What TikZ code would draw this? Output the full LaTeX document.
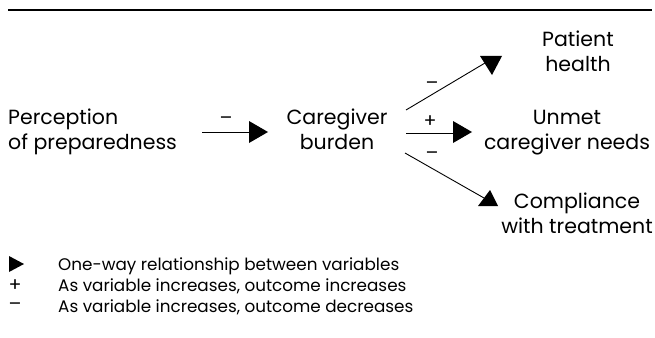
\documentclass[tikz,border=0pt]{standalone}
\usepackage{fontspec}
\setmainfont{Poppins}
\begin{document}
\begin{tikzpicture}[x=1pt,y=-1pt,
  lbl/.style={inner sep=0pt,align=center,font=\fontsize{20.5}{24.5}\selectfont},
  sgn/.style={inner sep=0pt,font=\fontsize{19}{22}\selectfont},
  leg/.style={inner sep=0pt,anchor=base west,font=\fontsize{16.8}{22}\selectfont},
  conn/.style={line width=0.9pt},
  head/.style={fill=black}]
\useasboundingbox (0,0) rectangle (655,337);
\draw[line width=2.5pt] (8,10) -- (652,10);
% nodes
\node[lbl,align=left,anchor=base west] (perc) at (8,149) {Perception\\of preparedness};
\node[lbl,anchor=base] (burd) at (337,149) {Caregiver\\burden};
\node[lbl,anchor=base] (pat) at (578,71) {Patient\\health};
\node[lbl,anchor=base] (unm) at (567,149) {Unmet\\caregiver needs};
\node[lbl,anchor=base] (comp) at (577,233) {Compliance\\with treatment};
% arrows
\coordinate (a1s) at (202,132); \coordinate (a1e) at (250,132);
\draw[conn] (a1s) -- (a1e);
\fill[head] (249,121) -- (268,132) -- (249,143) -- cycle;
\node[sgn] (m1) at (226,121) {–};
\coordinate (b1s) at (406,110); \coordinate (b1e) at (485,63);
\draw[conn] (b1s) -- (b1e);
\fill[head] (480,56) -- (502,56) -- (492,75) -- cycle;
\node[sgn] (m2) at (432,86) {–};
\coordinate (b2s) at (406,133); \coordinate (b2e) at (454,133);
\draw[conn] (b2s) -- (b2e);
\fill[head] (453,121) -- (472,132) -- (453,143) -- cycle;
\node[sgn] (p1) at (430,122) {+};
\coordinate (b3s) at (405,153); \coordinate (b3e) at (484,198);
\draw[conn] (b3s) -- (b3e);
\fill[head] (490,190) -- (498,206) -- (478,206) -- cycle;
\node[sgn] (m3) at (432,156) {–};
% legend
\fill[head] (9,256) -- (24,264) -- (9,272) -- cycle;
\node[sgn] (lp) at (15,286) {+};
\node[sgn] (lm) at (15,307) {–};
\node[leg] (l1) at (58,270) {One-way relationship between variables};
\node[leg] (l2) at (58,291) {As variable increases, outcome increases};
\node[leg] (l3) at (58,312) {As variable increases, outcome decreases};
\end{tikzpicture}
\end{document}
